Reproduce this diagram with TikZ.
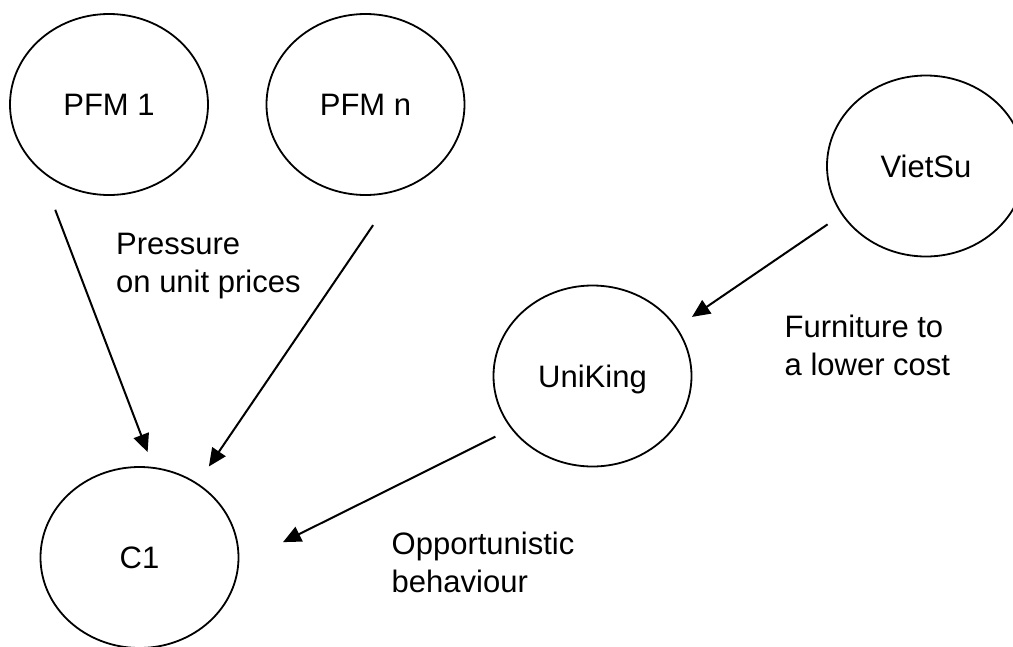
\documentclass[tikz,border=0pt]{standalone}
\usepackage{fontspec}
\setmainfont{Liberation Sans}
\usetikzlibrary{arrows.meta,shapes.geometric}
\begin{document}
\begin{tikzpicture}[x=1pt,y=-1pt,
  ent/.style={ellipse, draw, line width=1.8pt, minimum width=198pt, minimum height=181pt,
    inner sep=0pt, outer sep=0pt, font=\fontsize{31}{38}\selectfont, text height=22pt, text depth=0pt},
  arr/.style={line width=2pt, -{Triangle[length=18pt,width=16pt]}},
  lbl/.style={anchor=base west, align=left, inner sep=0pt, font=\fontsize{31}{38}\selectfont}]
\useasboundingbox[fill=white] (0,0) rectangle (1013,646);
\node[ent] (p1) at (109,104.5) {PFM 1};
\node[ent] (pn) at (365.5,104.5) {PFM n};
\node[ent] (vs) at (926,166) {VietSu};
\node[ent] (uk) at (592.5,376) {UniKing};
\node[ent] (c1) at (139.5,557.5) {C1};
\draw[arr, shorten <=43.5pt, shorten >=17pt] (p1.223.7) -- (c1.81.4);
\draw[arr, shorten <=42pt, shorten >=21pt] (pn.290) -- (c1.52.7);
\draw[arr, shorten <=17.8pt, shorten >=19.1pt] (vs.210.5) -- (uk.30.5);
\draw[arr, shorten <=18.4pt, shorten >=50pt] (uk.213.1) -- (c1.356.1);
\node[lbl] (t1) at (116,292) {Pressure\\on unit prices};
\node[lbl] (t2) at (784.5,375) {Furniture to\\a lower cost};
\node[lbl] (t3) at (391.5,592) {Opportunistic\\behaviour};
\end{tikzpicture}
\end{document}
